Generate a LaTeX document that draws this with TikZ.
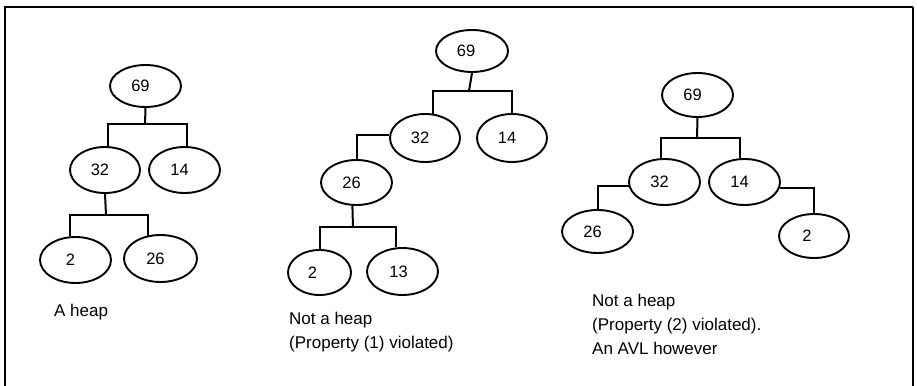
\documentclass[tikz,border=0pt]{standalone}
\usepackage{fontspec}
\setmainfont{Liberation Sans}
\usetikzlibrary{shapes.geometric}
\begin{document}
\begin{tikzpicture}[x=1pt,y=-1pt,
  tnode/.style={draw, ellipse, line width=1.9pt, inner sep=0pt,
    minimum width=71pt, minimum height=45pt, font=\fontsize{16.5}{20}\selectfont},
  conn/.style={line width=2pt},
  caption/.style={anchor=base west, inner sep=0pt, font=\fontsize{17}{24}\selectfont, align=left},
  frameline/.style={line width=2.2pt}]
\useasboundingbox (0,0) rectangle (917,385);
% frame
\coordinate (fbl) at (5,386);
\coordinate (ftl) at (5,7);
\coordinate (ftr) at (913,7);
\coordinate (fbr) at (913,386);
\draw[frameline] (fbl) -- (ftl) -- (ftr);
\draw[line width=1.3pt] (ftr) -- (fbr);

% ---------- Tree 1 ----------
\node[tnode, minimum height=42pt] (a69) at (145.5,86) {\hspace*{-10pt}69};
\node[tnode, minimum width=70pt, minimum height=46pt] (a32) at (105,170) {\hspace*{-10pt}32};
\node[tnode, minimum height=46pt] (a14) at (184.5,170) {\hspace*{-10pt}14};
\node[tnode, minimum height=46pt] (a2) at (75.5,260) {\hspace*{-10pt}2};
\node[tnode, minimum width=73pt, minimum height=47pt] (a26) at (160.5,258.5) {\hspace*{-10pt}26};
\coordinate (aj1) at (145,124);
\coordinate (aj2) at (106,215);
\draw[conn] (a69.south) -- (aj1);
\draw[conn] (a32.83) |- (aj1) -| (a14.84);
\draw[conn] (a32.south) -- (aj2);
\draw[conn] (a2.104) |- (aj2) -| (a26.119.5);
\node[caption] (capa) at (54,316) {A heap};

% ---------- Tree 2 ----------
\node[tnode, minimum width=72pt, minimum height=42pt] (b69) at (472,51) {\hspace*{-12pt}69};
\node[tnode, minimum width=70pt, minimum height=48pt] (b32) at (425,138) {\hspace*{-10pt}32};
\node[tnode, minimum width=70pt, minimum height=48pt] (b14) at (512,138) {\hspace*{-10pt}14};
\node[tnode, minimum width=71pt, minimum height=45pt] (b26) at (356.5,182.5) {\hspace*{-10pt}26};
\node[tnode, minimum width=63pt, minimum height=45pt] (b2) at (319.5,272.5) {\hspace*{-14pt}2};
\node[tnode, minimum width=71pt, minimum height=47pt] (b13) at (402.5,271.5) {\hspace*{-8pt}13};
\coordinate (bj1) at (469,91);
\coordinate (bj2) at (353,227);
\draw[conn] (b69.south) -- (bj1);
\draw[conn] (b32.71) |- (bj1) -| (b14.north);
\draw[conn] (b32.175) -| (b26.north);
\draw[conn] (b26.260) -- (bj2);
\draw[conn] (b2.north) |- (bj2) -| (b13.106);
\node[caption] (capb) at (289,348) {Not a heap\\(Property (1) violated)};

% ---------- Tree 3 ----------
\node[tnode, minimum width=71pt, minimum height=44pt] (c69) at (697.5,95) {\hspace*{-10pt}69};
\node[tnode, minimum width=71pt, minimum height=46pt] (c32) at (664.5,182) {\hspace*{-10pt}32};
\node[tnode, minimum width=71pt, minimum height=46pt] (c14) at (744.5,182) {\hspace*{-10pt}14};
\node[tnode, minimum width=71pt, minimum height=43pt] (c26) at (597.5,231.5) {\hspace*{-10pt}26};
\node[tnode, minimum width=70pt, minimum height=44pt] (c2) at (814,236) {\hspace*{-14pt}2};
\coordinate (cj1) at (697,138);
\draw[conn] (c69.south) -- (cj1);
\draw[conn] (c32.98.7) |- (cj1) -| (c14.101);
\draw[conn] (c32.186.5) -| (c26.north);
\draw[conn] (c14.350.4) -| (c2.north);
\node[caption] (capc) at (592,354) {Not a heap\\(Property (2) violated).\\An AVL however};
\end{tikzpicture}
\end{document}
